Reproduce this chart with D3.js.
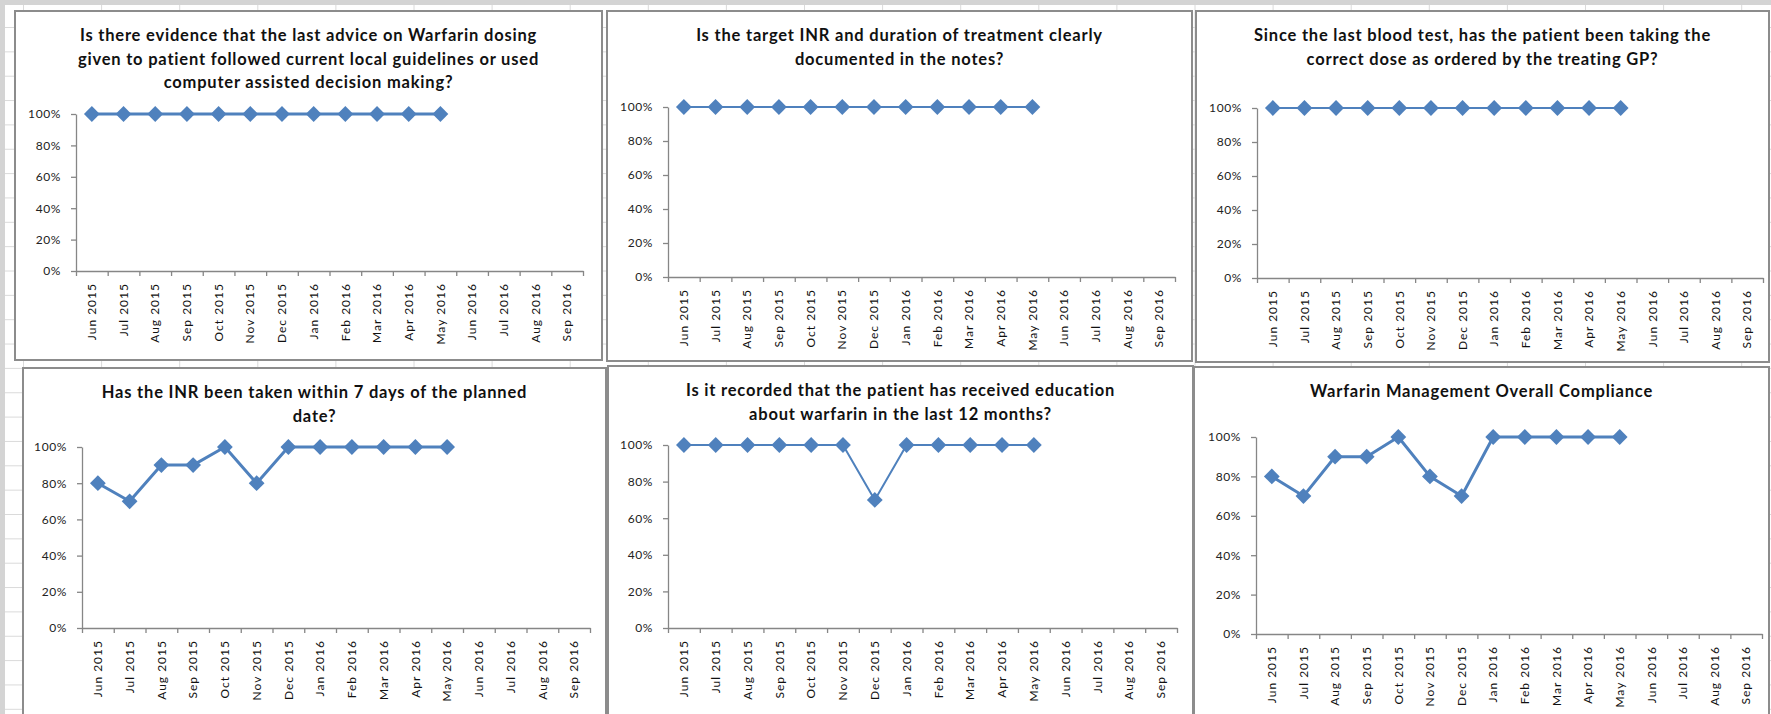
<!DOCTYPE html>
<html><head><meta charset="utf-8">
<script src="https://cdn.jsdelivr.net/npm/d3@7"></script>
<style>
html,body{margin:0;padding:0;background:#fff;}
svg{display:block;}
</style></head><body>
<svg id="chart" width="1771" height="714"></svg>
<script>
const months = ["Jun 2015","Jul 2015","Aug 2015","Sep 2015","Oct 2015","Nov 2015","Dec 2015",
  "Jan 2016","Feb 2016","Mar 2016","Apr 2016","May 2016","Jun 2016","Jul 2016","Aug 2016","Sep 2016"];
const yTicks = [0, 0.2, 0.4, 0.6, 0.8, 1];

const titleAdvice = ["Is there evidence that the last advice on Warfarin dosing",
  "given to patient followed current local guidelines or used",
  "computer assisted decision making?"];
const titleTarget = ["Is the target INR and duration of treatment clearly",
  "documented in the notes?"];
const titleDose = ["Since the last blood test, has  the patient been taking the",
  "correct dose as ordered by the treating GP?"];
const titleInr = ["Has  the INR been taken within 7 days  of the planned", "date?"];
const titleEducation = ["Is it recorded that the patient has received education",
  "about  warfarin  in the last  12 months?"];
const titleOverall = ["Warfarin Management Overall Compliance"];

const valuesAdvice    = [1, 1, 1, 1, 1, 1, 1, 1, 1, 1, 1, 1];
const valuesTarget    = [1, 1, 1, 1, 1, 1, 1, 1, 1, 1, 1, 1];
const valuesDose      = [1, 1, 1, 1, 1, 1, 1, 1, 1, 1, 1, 1];
const valuesInr       = [0.8, 0.7, 0.9, 0.9, 1, 0.8, 1, 1, 1, 1, 1, 1];
const valuesEducation = [1, 1, 1, 1, 1, 1, 0.7, 1, 1, 1, 1, 1];
const valuesOverall   = [0.8, 0.7, 0.9, 0.9, 1, 0.8, 0.7, 1, 1, 1, 1, 1];

// layout: box [x0,y0,x1,y1], plot [axisLeft, axisRight, y(100%), y(0%)]
const panels = [
  {title: titleAdvice,    values: valuesAdvice,    box: [15, 11, 602, 360],   plot: [76, 583, 114, 271],   lw: 3},
  {title: titleTarget,    values: valuesTarget,    box: [607, 11, 1192, 361], plot: [668, 1175, 107, 277], lw: 2},
  {title: titleDose,      values: valuesDose,      box: [1196, 11, 1769, 362],plot: [1257, 1763, 108, 278],lw: 2},
  {title: titleInr,       values: valuesInr,       box: [23, 368, 606, 740],  plot: [82, 590, 447, 628],   lw: 3},
  {title: titleEducation, values: valuesEducation, box: [608, 366, 1193, 740],plot: [668, 1177, 445, 628], lw: 2},
  {title: titleOverall,   values: valuesOverall,   box: [1194, 367, 1769, 740],plot: [1256, 1762, 437, 634],lw: 3}
];

const svg = d3.select("#chart");
svg.append("rect").attr("width", 1771).attr("height", 714).attr("fill", "#fff");

// spreadsheet gridlines behind the charts
const grid = svg.append("g").attr("stroke", "#dadada").attr("stroke-width", 1);
d3.range(23.5, 1771, 78.1).forEach(gx => grid.append("line")
  .attr("x1", gx).attr("x2", gx).attr("y1", 0).attr("y2", 714));
d3.range(27.5, 714, 24.35).forEach(gy => grid.append("line")
  .attr("x1", 0).attr("x2", 1771).attr("y1", gy).attr("y2", gy));
svg.append("rect").attr("x", 0).attr("y", 0).attr("width", 1771).attr("height", 5).attr("fill", "#d4d4d4");
svg.append("rect").attr("x", 0).attr("y", 0).attr("width", 5).attr("height", 714).attr("fill", "#d4d4d4");

const blue = "#4f81bd";
const axisColor = "#868686";

panels.forEach(p => {
  const [bx0, by0, bx1, by1] = p.box;
  const [axL, axR, yTop, yBot] = p.plot;
  const g = svg.append("g");

  g.append("rect").attr("x", bx0).attr("y", by0).attr("width", bx1 - bx0).attr("height", by1 - by0)
    .attr("fill", "#fff").attr("stroke", "#8c8c8c").attr("stroke-width", 2);

  const x = d3.scaleBand().domain(months).range([axL, axR]);
  const xTick = d3.scaleLinear().domain([0, months.length]).range([axL, axR]);
  const y = d3.scaleLinear().domain([0, 1]).range([yBot, yTop]);
  const cx = m => x(m) + x.bandwidth() / 2;

  // title
  const t = g.append("text").attr("text-anchor", "middle")
    .attr("font-family", "Lato, 'Open Sans', sans-serif").attr("font-weight", "bold")
    .attr("font-size", 16.5).attr("letter-spacing", "0.8px").attr("fill", "#111");
  p.title.forEach((line, i) => t.append("tspan")
    .attr("x", (bx0 + bx1) / 2).attr("y", by0 + 30 + i * 23.5).text(line));

  // y axis
  const ya = g.append("g").attr("transform", `translate(${axL},0)`)
    .call(d3.axisLeft(y).tickValues(yTicks).tickFormat(d3.format(".0%"))
      .tickSize(5).tickSizeOuter(0).tickPadding(10));
  ya.select(".domain").attr("stroke", axisColor).attr("stroke-width", 1.3);
  ya.selectAll(".tick line").attr("stroke", axisColor).attr("stroke-width", 1.3);
  ya.selectAll(".tick text").attr("font-family", "Lato, sans-serif").attr("font-size", 12)
    .attr("letter-spacing", "0.6px").attr("fill", "#222");

  // x axis (ticks between categories)
  const xa = g.append("g").attr("transform", `translate(0,${yBot})`)
    .call(d3.axisBottom(xTick).tickValues(d3.range(months.length + 1)).tickFormat("")
      .tickSize(5).tickSizeOuter(0));
  xa.select(".domain").attr("stroke", axisColor).attr("stroke-width", 1.3);
  xa.selectAll(".tick line").attr("stroke", axisColor).attr("stroke-width", 1.3);

  // rotated category labels
  g.append("g").selectAll("text").data(months).join("text")
    .attr("transform", d => `translate(${cx(d)},${yBot + 12}) rotate(-90)`)
    .attr("text-anchor", "end").attr("dy", "0.35em")
    .attr("font-family", "Lato, sans-serif").attr("font-size", 12)
    .attr("letter-spacing", "1px").attr("fill", "#111")
    .text(d => d);

  // series
  const pts = p.values.map((v, i) => ({m: months[i], v}));
  g.append("path").datum(pts)
    .attr("d", d3.line().x(d => cx(d.m)).y(d => y(d.v)))
    .attr("fill", "none").attr("stroke", blue).attr("stroke-width", p.lw)
    .attr("stroke-linejoin", "round");
  g.append("g").selectAll("path").data(pts).join("path")
    .attr("d", d3.symbol(d3.symbolSquare, 125))
    .attr("transform", d => `translate(${cx(d.m)},${y(d.v)}) rotate(45)`)
    .attr("fill", blue);
});
</script>
</body></html>
